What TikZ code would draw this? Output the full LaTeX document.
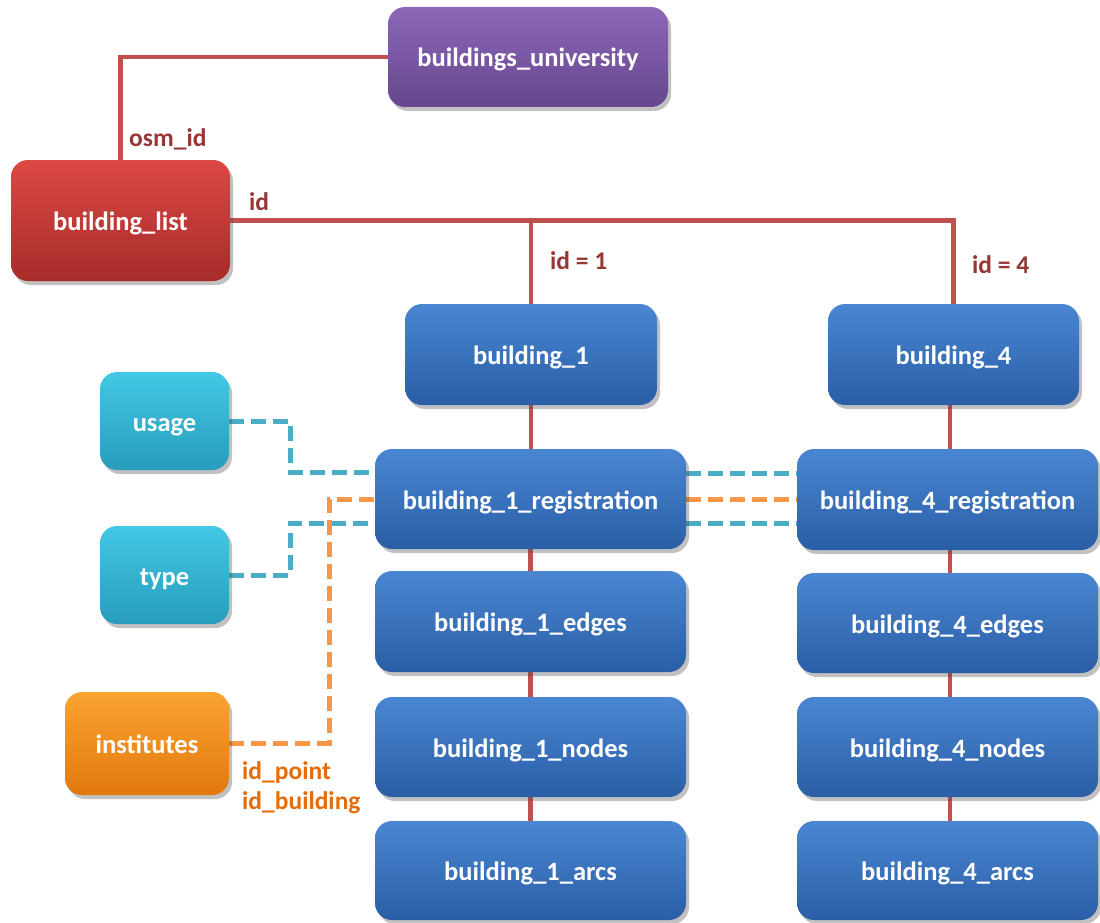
\documentclass[tikz,border=0pt]{standalone}
\usepackage{fontspec}
\setmainfont{Carlito}
\usetikzlibrary{shadows,backgrounds,calc}
\definecolor{lnred}{RGB}{192,80,77}
\definecolor{lblred}{RGB}{149,55,53}
\definecolor{lblorg}{RGB}{228,108,10}
\definecolor{dcyan}{RGB}{75,172,198}
\definecolor{dorg}{RGB}{247,150,70}
\tikzset{
  box/.style={rounded corners=17pt, draw=none, inner sep=0pt, text=white,
    font=\fontsize{26.5}{30}\selectfont\bfseries, text height=24pt, text depth=4pt,
    drop shadow={shadow xshift=3pt, shadow yshift=-4pt, opacity=0.35, fill=black!70}},
  bluebox/.style={box, top color={rgb,255:red,74;green,134;blue,210}, bottom color={rgb,255:red,42;green,94;blue,166}},
  redbox/.style={box, top color={rgb,255:red,220;green,72;blue,68}, bottom color={rgb,255:red,166;green,44;blue,42}},
  purplebox/.style={box, top color={rgb,255:red,140;green,104;blue,184}, bottom color={rgb,255:red,102;green,70;blue,142}},
  cyanbox/.style={box, top color={rgb,255:red,66;green,200;blue,228}, bottom color={rgb,255:red,40;green,156;blue,188}},
  orangebox/.style={box, top color={rgb,255:red,250;green,164;blue,48}, bottom color={rgb,255:red,226;green,120;blue,14}},
  redline/.style={draw=lnred, line width=4.5pt},
  cyline/.style={draw=dcyan, line width=5pt, dash pattern=on 15pt off 7pt},
  orline/.style={draw=dorg, line width=5pt, dash pattern=on 15pt off 7pt},
  lbl/.style={font=\fontsize{25.5}{29}\selectfont\bfseries, inner sep=0pt, anchor=west},
}
\begin{document}
\begin{tikzpicture}[x=1pt,y=-1pt]
\useasboundingbox (0,0) rectangle (1100,923);
\node[purplebox, minimum width=280pt, minimum height=100pt] (uni) at (528,57) {buildings\_university};
\node[redbox, minimum width=219pt, minimum height=121pt] (list) at (120.5,220.5) {building\_list};
\node[bluebox, minimum width=252pt, minimum height=101pt] (b1) at (531,354.5) {building\_1};
\node[bluebox, minimum width=251pt, minimum height=101pt] (b4) at (953.5,354.5) {building\_4};
\node[cyanbox, minimum width=129pt, minimum height=98pt] (usage) at (164.5,421) {usage};
\node[cyanbox, minimum width=129pt, minimum height=98pt] (type) at (164.5,575) {type};
\node[orangebox, minimum width=164pt, minimum height=103pt] (inst) at (147,743.5) {institutes};
\node[bluebox, minimum width=311pt, minimum height=100pt] (r1) at (530.5,499) {building\_1\_registration};
\node[bluebox, minimum width=311pt, minimum height=101pt] (e1) at (530.5,621.5) {building\_1\_edges};
\node[bluebox, minimum width=311pt, minimum height=100pt] (n1) at (530.5,747) {building\_1\_nodes};
\node[bluebox, minimum width=311pt, minimum height=99pt] (a1) at (530.5,870.5) {building\_1\_arcs};
\node[bluebox, minimum width=301pt, minimum height=101pt] (r4) at (947.5,499.5) {building\_4\_registration};
\node[bluebox, minimum width=301pt, minimum height=100pt] (e4) at (947.5,623) {building\_4\_edges};
\node[bluebox, minimum width=301pt, minimum height=100pt] (n4) at (947.5,747) {building\_4\_nodes};
\node[bluebox, minimum width=301pt, minimum height=99pt] (a4) at (947.5,870.5) {building\_4\_arcs};
\begin{pgfonlayer}{background}
\draw[redline] (uni.west) -| (list.north);
\draw[redline] (list.east) -| (b4.north);
\coordinate (j1) at (b1.north |- list.east);
\draw[redline] (j1) -- (b1.north);
\draw[redline] (b1.south) -- (b1.south |- r1.north);
\draw[redline] (r1.south) -- (r1.south |- e1.north);
\draw[redline] (e1.south) -- (e1.south |- n1.north);
\draw[redline] (n1.south) -- (n1.south |- a1.north);
\draw[redline] (b4.south -| 950,0) -- (950,449);
\draw[redline] (r4.south -| 950,0) -- (950,573);
\draw[redline] (e4.south -| 950,0) -- (950,697);
\draw[redline] (n4.south -| 950,0) -- (950,821);
\draw[cyline] (usage.east) -| (290,472) -- (r1.west |- 290,472);
\draw[cyline] (type.east) -| (290,523) -- (r1.west |- 290,523);
\draw[orline] (inst.east) -| (329,499) -- (r1.west);
\draw[cyline] (r1.east |- 0,473) -- (r4.west |- 0,473);
\draw[orline] (r1.east |- 0,499) -- (r4.west |- 0,499);
\draw[cyline] (r1.east |- 0,523) -- (r4.west |- 0,523);
\end{pgfonlayer}
\node[lbl, text=lblred] (losm) at (129,139) {osm\_id};
\node[lbl, text=lblred] (lid) at (249,202) {id};
\node[lbl, text=lblred] (lid1) at (550,261) {id = 1};
\node[lbl, text=lblred] (lid4) at (972,265) {id = 4};
\node[lbl, text=lblorg] (lpt) at (242,773) {id\_point};
\node[lbl, text=lblorg] (lbd) at (242,803) {id\_building};
\end{tikzpicture}
\end{document}
